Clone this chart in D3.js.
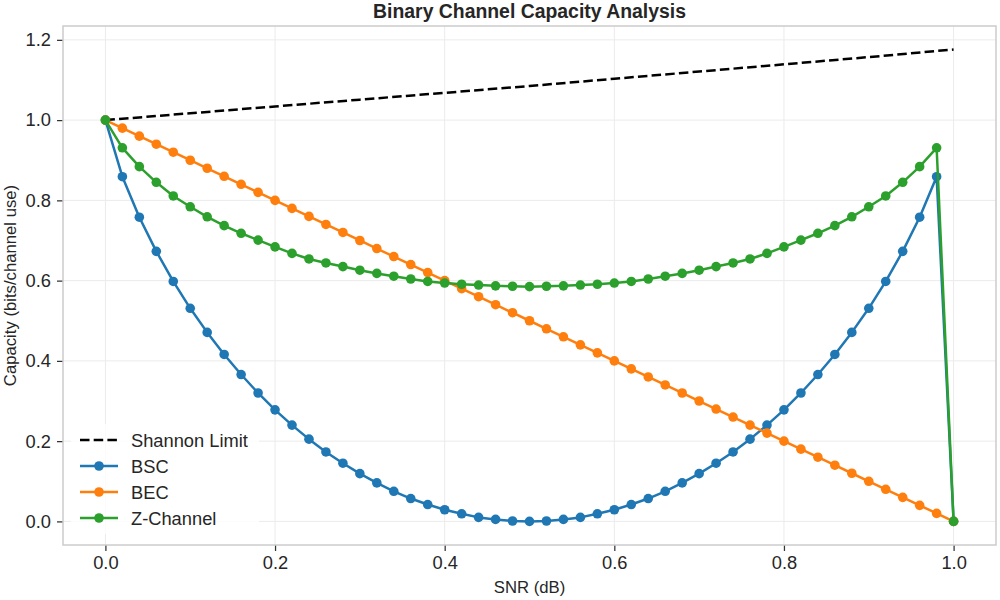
<!DOCTYPE html>
<html>
<head>
<meta charset="utf-8">
<script src="https://cdn.jsdelivr.net/npm/d3@7"></script>
<style>
  html, body { margin: 0; padding: 0; background: #fff; }
  svg { display: block; font-family: "Liberation Sans", Arial, sans-serif; }
</style>
</head>
<body>
<svg id="chart" width="1000" height="600"></svg>
<script>
// ---- data ----
const snr = [0.00,0.02,0.04,0.06,0.08,0.10,0.12,0.14,0.16,0.18,0.20,0.22,0.24,0.26,0.28,0.30,0.32,0.34,0.36,0.38,0.40,0.42,0.44,0.46,0.48,0.50,0.52,0.54,0.56,0.58,0.60,0.62,0.64,0.66,0.68,0.70,0.72,0.74,0.76,0.78,0.80,0.82,0.84,0.86,0.88,0.90,0.92,0.94,0.96,0.98,1.00];
const bsc = [1.000,0.859,0.758,0.673,0.598,0.531,0.471,0.416,0.366,0.320,0.278,0.240,0.205,0.173,0.145,0.119,0.096,0.075,0.057,0.042,0.029,0.019,0.010,0.005,0.001,0.000,0.001,0.005,0.010,0.019,0.029,0.042,0.057,0.075,0.096,0.119,0.145,0.173,0.205,0.240,0.278,0.320,0.366,0.416,0.471,0.531,0.598,0.673,0.758,0.859,0.000];
const bec = [1.00,0.98,0.96,0.94,0.92,0.90,0.88,0.86,0.84,0.82,0.80,0.78,0.76,0.74,0.72,0.70,0.68,0.66,0.64,0.62,0.60,0.58,0.56,0.54,0.52,0.50,0.48,0.46,0.44,0.42,0.40,0.38,0.36,0.34,0.32,0.30,0.28,0.26,0.24,0.22,0.20,0.18,0.16,0.14,0.12,0.10,0.08,0.06,0.04,0.02,0.00];
const zch = [1.000,0.931,0.884,0.845,0.811,0.784,0.759,0.737,0.718,0.701,0.684,0.668,0.654,0.644,0.635,0.626,0.618,0.611,0.604,0.598,0.594,0.591,0.589,0.587,0.586,0.585,0.586,0.587,0.589,0.591,0.594,0.598,0.604,0.611,0.618,0.626,0.635,0.644,0.654,0.668,0.684,0.701,0.718,0.737,0.759,0.784,0.811,0.845,0.884,0.931,0.000];
const shannonX = [0.0,0.1,0.2,0.3,0.4,0.5,0.6,0.7,0.8,0.9,1.0];
const shannonY = [1.000,1.017,1.034,1.051,1.068,1.085,1.103,1.121,1.139,1.157,1.176];
const xTicks = [0.0,0.2,0.4,0.6,0.8,1.0];
const yTicks = [0.0,0.2,0.4,0.6,0.8,1.0,1.2];
const seriesNames = ["Shannon Limit","BSC","BEC","Z-Channel"];
const seriesColors = ["#000000","#1f77b4","#ff7f0e","#2ca02c"];

// ---- layout ----
const svg = d3.select("#chart");
const L = 63, R = 996, T = 26, B = 545;
const x = d3.scaleLinear().domain([-0.05, 1.05]).range([L, R]);
const y = d3.scaleLinear().domain([-0.0588, 1.2345]).range([B, T]);
const textColor = "#262626";

// grid
const grid = svg.append("g");
grid.selectAll(".vg").data(xTicks).enter().append("line")
  .attr("x1", d => x(d)).attr("x2", d => x(d)).attr("y1", T).attr("y2", B)
  .attr("stroke", "#ebebeb").attr("stroke-width", 1);
grid.selectAll(".hg").data(yTicks).enter().append("line")
  .attr("x1", L).attr("x2", R).attr("y1", d => y(d)).attr("y2", d => y(d))
  .attr("stroke", "#ebebeb").attr("stroke-width", 1);

// axes
const xAxis = d3.axisBottom(x).tickValues(xTicks).tickFormat(d3.format(".1f")).tickSize(6).tickPadding(5);
const yAxis = d3.axisLeft(y).tickValues(yTicks).tickFormat(d3.format(".1f")).tickSize(6).tickPadding(6);
const gx = svg.append("g").attr("transform", `translate(0,${B})`).call(xAxis);
const gy = svg.append("g").attr("transform", `translate(${L},0)`).call(yAxis);
[gx, gy].forEach(g => {
  g.select(".domain").remove();
  g.selectAll(".tick line").attr("stroke", "#333333").attr("stroke-width", 1.25);
  g.selectAll(".tick text").attr("fill", textColor).style("font-size", "18.3px")
    .style("font-family", '"Liberation Sans", Arial, sans-serif');
});

// spines
svg.append("rect").attr("x", L).attr("y", T).attr("width", R - L).attr("height", B - T)
  .attr("fill", "none").attr("stroke", "#cccccc").attr("stroke-width", 1.5);

// lines
const plot = svg.append("g");
const line = d3.line().x(d => x(d[0])).y(d => y(d[1]));
const shannonPts = shannonX.map((v, i) => [v, shannonY[i]]);
plot.append("path").datum(shannonPts).attr("d", line)
  .attr("fill", "none").attr("stroke", seriesColors[0]).attr("stroke-width", 2.5)
  .attr("stroke-dasharray", "9.5,4.2");

const series = [bsc, bec, zch];
series.forEach((vals, si) => {
  const pts = snr.map((v, i) => [v, vals[i]]);
  const c = seriesColors[si + 1];
  plot.append("path").datum(pts).attr("d", line)
    .attr("fill", "none").attr("stroke", c).attr("stroke-width", 2.5)
    .attr("stroke-linejoin", "round");
  plot.selectAll(null).data(pts).enter().append("circle")
    .attr("cx", d => x(d[0])).attr("cy", d => y(d[1])).attr("r", 4.8)
    .attr("fill", c);
});

// title & labels
svg.append("text").attr("x", (L + R) / 2).attr("y", 18).attr("text-anchor", "middle")
  .attr("fill", textColor).style("font-size", "19.4px").style("font-weight", "bold")
  .text("Binary Channel Capacity Analysis");
svg.append("text").attr("x", (L + R) / 2).attr("y", 593).attr("text-anchor", "middle")
  .attr("fill", textColor).style("font-size", "16.7px").text("SNR (dB)");
svg.append("text").attr("transform", `translate(16,${(T + B) / 2}) rotate(-90)`)
  .attr("text-anchor", "middle").attr("fill", textColor).style("font-size", "16.7px")
  .text("Capacity (bits/channel use)");

// legend
const lg = svg.append("g");
lg.append("rect").attr("x", 71).attr("y", 424).attr("width", 188).attr("height", 110)
  .attr("fill", "#ffffff").attr("fill-opacity", 0.8).attr("rx", 3);
seriesNames.forEach((name, i) => {
  const cy = 440 + i * 26;
  const l = lg.append("line").attr("x1", 80).attr("x2", 118).attr("y1", cy).attr("y2", cy)
    .attr("stroke", seriesColors[i]).attr("stroke-width", 2.5);
  if (i === 0) l.attr("stroke-dasharray", "9.5,4.2");
  else lg.append("circle").attr("cx", 99).attr("cy", cy).attr("r", 4.8).attr("fill", seriesColors[i]);
  lg.append("text").attr("x", 131).attr("y", cy + 6.5).attr("fill", textColor)
    .style("font-size", "18.3px").text(name);
});
</script>
</body>
</html>
